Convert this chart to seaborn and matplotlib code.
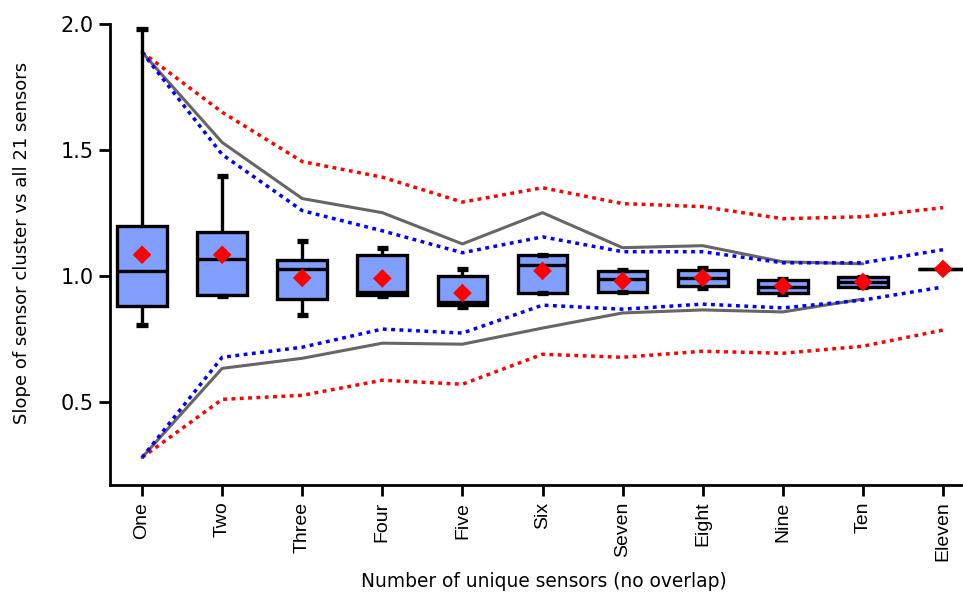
import numpy as np
import pandas as pd
import matplotlib
matplotlib.use("Agg")
import matplotlib.pyplot as plt
import seaborn as sns

categories = ["One", "Two", "Three", "Four", "Five", "Six", "Seven", "Eight", "Nine", "Ten", "Eleven"]
whisker_low = [0.805, 0.920, 0.845, 0.920, 0.876, 0.932, 0.936, 0.952, 0.928, 0.956, 1.028]
q1 = [0.880, 0.924, 0.908, 0.924, 0.884, 0.932, 0.936, 0.960, 0.932, 0.956, 1.028]
median = [1.020, 1.068, 1.028, 0.936, 0.897, 1.044, 0.988, 0.992, 0.956, 0.976, 1.028]
q3 = [1.199, 1.175, 1.064, 1.084, 1.000, 1.084, 1.020, 1.024, 0.984, 0.996, 1.028]
whisker_high = [1.980, 1.398, 1.140, 1.112, 1.028, 1.084, 1.024, 1.032, 0.988, 0.996, 1.028]
means = [1.084, 1.084, 0.992, 0.990, 0.932, 1.020, 0.980, 0.992, 0.960, 0.976, 1.028]

gray_upper = [1.888, 1.530, 1.307, 1.251, 1.127, 1.251, 1.112, 1.120, 1.056, 1.048]
gray_lower = [0.279, 0.633, 0.673, 0.733, 0.729, 0.793, 0.853, 0.865, 0.857, 0.908]
red_upper = [1.888, 1.650, 1.454, 1.392, 1.293, 1.350, 1.287, 1.275, 1.227, 1.235, 1.271]
red_lower = [0.279, 0.510, 0.526, 0.586, 0.570, 0.689, 0.677, 0.701, 0.693, 0.721, 0.785]
blue_upper = [1.888, 1.482, 1.259, 1.179, 1.092, 1.155, 1.096, 1.096, 1.052, 1.052, 1.104]
blue_lower = [0.279, 0.677, 0.717, 0.789, 0.773, 0.884, 0.868, 0.888, 0.873, 0.904, 0.956]

sns.set_theme(style="ticks")
plt.rcParams["font.family"] = ["DejaVu Sans"]

fig = plt.figure(figsize=(9.63, 5.94), dpi=100)
ax = fig.add_axes([110 / 963, (594 - 485) / 594, (963 - 110) / 963, (485 - 24) / 594])

box_df = pd.DataFrame({
    "cat": np.repeat(categories, 5),
    "val": np.column_stack([whisker_low, q1, median, q3, whisker_high]).ravel(),
})

sns.boxplot(
    data=box_df, x="cat", y="val", order=categories, ax=ax,
    whis=(0, 100), showfliers=False, width=0.62,
    color="#809fff", saturation=1,
    boxprops=dict(edgecolor="black", linewidth=2.4, facecolor="#809fff"),
    medianprops=dict(color="black", linewidth=2.4),
    whiskerprops=dict(color="black", linewidth=2.4),
    capprops=dict(color="black", linewidth=3.8, solid_capstyle="butt"),
    capwidths=0.14,
    zorder=3,
)

xi = np.arange(len(categories))
line_df = pd.DataFrame({"x": xi[:len(gray_upper)], "gu": gray_upper, "gl": gray_lower})
sns.lineplot(x=line_df["x"], y=line_df["gu"], ax=ax, color="#666666", lw=2.2, zorder=2)
sns.lineplot(x=line_df["x"], y=line_df["gl"], ax=ax, color="#666666", lw=2.2, zorder=2)
for vals, col in [(red_upper, "#ff0000"), (red_lower, "#ff0000"), (blue_upper, "#0000ff"), (blue_lower, "#0000ff")]:
    sns.lineplot(x=xi, y=vals, ax=ax, color=col, lw=2.5, zorder=2,
                 linestyle=(0, (1.1, 1.3)), dash_capstyle="butt")

sns.scatterplot(x=xi, y=means, ax=ax, marker="D", color="#ff0000", s=90,
                edgecolor="none", zorder=5)

ax.set_xlim(-0.4, 10.25)
ax.set_ylim(0.17, 2.0)
ax.set_yticks([0.5, 1.0, 1.5, 2.0])
ax.set_yticklabels(["0.5", "1.0", "1.5", "2.0"])
ax.set_xticks(xi)
ax.set_xticklabels(categories)
ax.tick_params(axis="both", length=8, width=2, color="black", labelcolor="black", direction="out", pad=4)
ax.tick_params(axis="y", labelsize=15)
ax.tick_params(axis="x", labelsize=14, labelrotation=90, labelfontfamily="Liberation Sans")
for s in ["top", "right"]:
    ax.spines[s].set_visible(False)
for s in ["left", "bottom"]:
    ax.spines[s].set_linewidth(2)
    ax.spines[s].set_color("black")
ax.set_xlabel("Number of unique sensors (no overlap)", fontsize=13.4, color="black")
ax.set_ylabel("Slope of sensor cluster vs all 21 sensors", fontsize=13, color="black")
ax.yaxis.set_label_coords((31 - 110) / 853, (485 - 243) / 461)
ax.xaxis.set_label_coords((544 - 110) / 853, (485 - 572) / 461)

fig.savefig("out.png", dpi=100)
